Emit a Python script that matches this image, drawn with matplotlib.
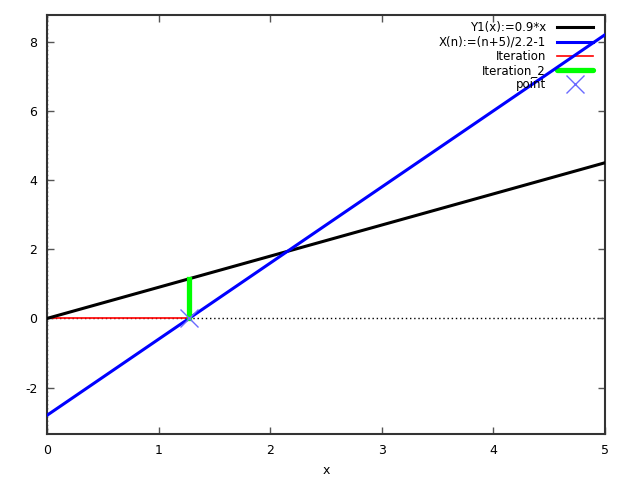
import matplotlib
matplotlib.use("Agg")
import matplotlib.pyplot as plt
from matplotlib.lines import Line2D

# curve endpoints
x_line = [0, 5]
y1_vals = [0, 4.5]          # Y1(x):=0.9*x
xn_vals = [-2.8, 8.2]       # X(n):=(n+5)/2.2-1 (inverse drawn)

iter_x = [0, 1.2727]
iter_y = [0, 0]
iter2_x = [1.2727, 1.2727]
iter2_y = [0, 1.1455]
point_x = [1.2727]
point_y = [0]

labels = ['Y1(x):=0.9*x', 'X(n):=(n+5)/2.2-1', 'Iteration', 'Iteration_2', 'point']

plt.rcParams['font.family'] = 'DejaVu Sans'
plt.rcParams['font.size'] = 8.5
plt.rcParams['axes.unicode_minus'] = False

fig = plt.figure(figsize=(6.4, 4.78), dpi=100)
ax = fig.add_axes([47/640, 1 - 434/478, (605-47)/640, (434-15)/478])

# zero axes, gnuplot style
ax.axhline(0, color='black', lw=1, ls=(0, (1, 2)), zorder=1)
ax.axvline(0, color='black', lw=1, ls=(0, (1, 2)), zorder=1)

ax.plot(x_line, y1_vals, color='black', lw=2.2, zorder=3)
ax.plot(x_line, xn_vals, color='#0000ff', lw=2.2, zorder=3)
ax.plot(iter_x, iter_y, color='#ff0000', lw=1.2, zorder=2)
ax.plot(iter2_x, iter2_y, color='#00ff00', lw=3.8, zorder=4)
ax.plot(point_x, point_y, 'x', color='#6a6aff', ms=13, mew=1, zorder=5)

ax.set_xlim(0, 5)
ax.set_ylim(-3.34, 8.77)
ax.set_xticks([0, 1, 2, 3, 4, 5])
ax.set_yticks([-2, 0, 2, 4, 6, 8])
ax.tick_params(direction='in', top=True, right=True, length=5, width=1,
               color='#555555', pad=7, labelsize=9)
for s in ax.spines.values():
    s.set_linewidth(1.5)
    s.set_color('#333333')
ax.set_xlabel('x', labelpad=5, fontsize=9)

# legend drawn by hand: right-aligned text, sample to the right
rows = [0.971, 0.936, 0.902, 0.868, 0.835]
styles = [dict(color='black', lw=2.2), dict(color='#0000ff', lw=2.2),
          dict(color='#ff0000', lw=1.2),
          dict(color='#00ff00', lw=3.8, solid_capstyle='round')]
for lab, yy in zip(labels, rows):
    ax.text(0.894, yy, lab, transform=ax.transAxes, ha='right', va='center')
for st, yy in zip(styles, rows):
    ax.add_line(Line2D([0.914, 0.978], [yy, yy], transform=ax.transAxes, **st))
ax.add_line(Line2D([0.946], [rows[4]], transform=ax.transAxes, marker='x',
                   color='#6a6aff', ms=13, mew=1, ls='none'))

fig.savefig('out.png', dpi=100)
